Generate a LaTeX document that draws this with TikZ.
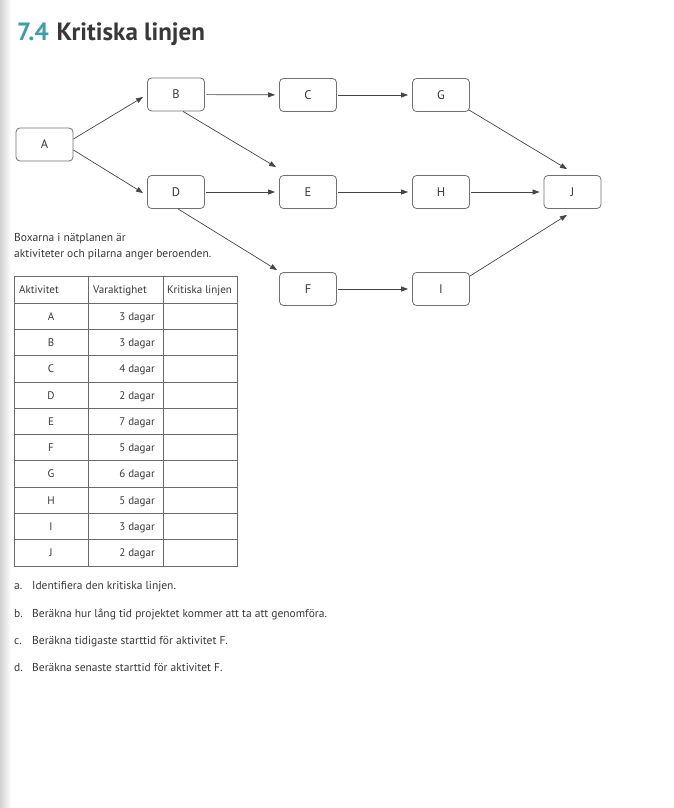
\documentclass[tikz,border=0pt]{standalone}
\usepackage{fontspec}
\setmainfont{PT Sans}
\usetikzlibrary{arrows.meta}
\definecolor{ink}{HTML}{383838}
\definecolor{teal74}{HTML}{3A9FA8}
\definecolor{boxline}{HTML}{707070}
\definecolor{arrowc}{HTML}{454545}
\definecolor{gridc}{HTML}{6A6A6A}
\begin{document}
\begin{tikzpicture}[x=1bp,y=-1bp,
 box/.style={draw=boxline, line width=0.8bp, rounded corners=4bp, minimum width=57bp, minimum height=33bp, inner sep=0pt, text=ink, font=\fontsize{12.5bp}{14bp}\selectfont},
 arr/.style={draw=arrowc, line width=0.7bp, -{Triangle[length=7bp,width=5bp]}},
 hz/.style={arr, shorten >=4bp, shorten <=1.5bp},
 body/.style={text=ink, font=\fontsize{11.5bp}{13bp}\selectfont, inner sep=0pt, anchor=base west},
 cell/.style={text=ink, font=\fontsize{11bp}{13bp}\selectfont, inner sep=0pt},
 gridline/.style={draw=gridc, line width=0.7bp}]
\useasboundingbox (0,0) rectangle (674,808);
\fill[white] (0,0) rectangle (674,808);
\shade[left color=black!18, right color=white] (0,0) rectangle (11,808);

% title
\node[anchor=base west, inner sep=0pt, font=\fontsize{25bp}{30bp}\selectfont\bfseries] (title) at (17,41)
  {\textcolor{teal74}{7.4}\hspace{8bp}\textcolor{ink}{Kritiska linjen}};

% network
\node[box] (A) at (44.5,144.5) {A};
\node[box] (B) at (176,94.5) {B};
\node[box] (C) at (308,95) {C};
\node[box] (G) at (441,95) {G};
\node[box] (D) at (176,192) {D};
\node[box] (E) at (308,192) {E};
\node[box] (H) at (441,192) {H};
\node[box] (J) at (572.5,192) {J};
\node[box] (F) at (308,289) {F};
\node[box] (I) at (441,289) {I};

\draw[arr] ([yshift=5.5bp]A.east) -- ([xshift=-4bp,yshift=-2.5bp]B.west);
\draw[arr] ([yshift=-5.5bp]A.east) -- ([xshift=-4bp,yshift=-1bp]D.west);
\draw[hz] (B) -- (C);
\draw[hz] (C) -- (G);
\draw[hz] (D) -- (E);
\draw[hz] (E) -- (H);
\draw[hz] (H) -- (J);
\draw[hz] (F) -- (I);
\draw[arr] ([xshift=7bp]B.south) -- ([xshift=-3bp,yshift=8bp]E.north west);
\draw[arr] ([xshift=2bp]D.south) -- ([xshift=-2bp,yshift=2bp]F.north west);
\draw[arr] ([xshift=-1bp,yshift=2bp]G.south east) -- ([xshift=-5.5bp,yshift=6bp]J.north);
\draw[arr] ([yshift=-4bp]I.north east) -- ([xshift=-5.5bp,yshift=-6bp]J.south);

% intro text
\node[body] (intro1) at (14,241) {Boxarna i nätplanen är};
\node[body] (intro2) at (14,257) {aktiviteter och pilarna anger beroenden.};

% table
\def\rowh{26.3}
\draw[gridline] (14,276) rectangle (237,566);
\draw[gridline] (88,276) -- (88,566);
\draw[gridline] (163,276) -- (163,566);
\draw[gridline] (14,303) -- (237,303);
\foreach \k in {1,...,9} {
  \draw[gridline] (14,303+\k*\rowh) -- (237,303+\k*\rowh);
}
\node[cell, anchor=base west] (h1) at (19,293.5) {Aktivitet};
\node[cell, anchor=base west] (h2) at (93,293.5) {Varaktighet};
\node[cell, anchor=base west] (h3) at (167,293.5) {Kritiska linjen};
\foreach \l/\d [count=\i] in {A/3,B/3,C/4,D/2,E/7,F/5,G/6,H/5,I/3,J/2} {
  \node[cell, anchor=base] (l\i) at (51,303+\i*\rowh-\rowh/2+4) {\l};
  \node[cell, anchor=base east] (d\i) at (155,303+\i*\rowh-\rowh/2+4) {\d\ dagar};
}

% questions
\node[body] (qa) at (14,589) {a.};
\node[body] (ta) at (32,589) {Identifiera den kritiska linjen.};
\node[body] (qb) at (14,617) {b.};
\node[body] (tb) at (32,617) {Beräkna hur lång tid projektet kommer att ta att genomföra.};
\node[body] (qc) at (14,644) {c.};
\node[body] (tc) at (32,644) {Beräkna tidigaste starttid för aktivitet F.};
\node[body] (qd) at (14,671) {d.};
\node[body] (td) at (32,671) {Beräkna senaste starttid för aktivitet F.};
\end{tikzpicture}
\end{document}
